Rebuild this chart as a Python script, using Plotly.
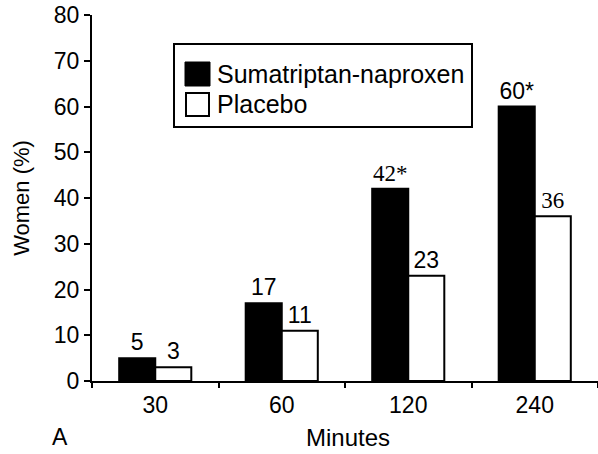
import plotly.graph_objects as go

categories = ["30", "60", "120", "240"]
suma_values = [5, 17, 42, 60]
placebo_values = [3, 11, 23, 36]
suma_labels = ["5", "17", "42*", "60*"]
placebo_labels = ["3", "11", "23", "36"]
suma_label_fonts = ["Liberation Sans", "Liberation Sans", "Liberation Serif", "Liberation Sans"]
placebo_label_fonts = ["Liberation Sans", "Liberation Sans", "Liberation Sans", "Liberation Serif"]
y_ticks = [0, 10, 20, 30, 40, 50, 60, 70, 80]
series_names = ["Sumatriptan-naproxen", "Placebo"]

SANS = "Liberation Sans, Arial, sans-serif"

fig = go.Figure()
fig.add_trace(go.Bar(
    x=categories, y=suma_values, name=series_names[0],
    marker=dict(color="black", line=dict(color="black", width=2)),
    text=suma_labels, textposition="outside",
    textfont=dict(family=suma_label_fonts, size=23, color="black"),
    cliponaxis=False, showlegend=False,
))
fig.add_trace(go.Bar(
    x=categories, y=placebo_values, name=series_names[1],
    marker=dict(color="white", line=dict(color="black", width=2)),
    text=placebo_labels, textposition="outside",
    textfont=dict(family=placebo_label_fonts, size=23, color="black"),
    cliponaxis=False, showlegend=False,
))

# plot area in pixels: x 92..598, y 15..381
L, R, T, B = 92, 598, 15, 381
def px(x):
    return (x - L) / (R - L)
def py(y):
    return (B - y) / (B - T)

shapes = [
    dict(type="rect", xref="paper", yref="paper", x0=px(174), x1=px(472), y0=py(127), y1=py(44),
         line=dict(color="black", width=2), fillcolor="white", layer="above"),
    dict(type="rect", xref="paper", yref="paper", x0=px(185), x1=px(210), y0=py(86), y1=py(62),
         line=dict(color="black", width=1), fillcolor="black", layer="above"),
    dict(type="rect", xref="paper", yref="paper", x0=px(186), x1=px(209), y0=py(116), y1=py(93),
         line=dict(color="black", width=2), fillcolor="white", layer="above"),
]
annotations = [
    dict(text=series_names[0], xref="paper", yref="paper", x=px(215), y=py(74), xanchor="left",
         yanchor="middle", showarrow=False, font=dict(family=SANS, size=25, color="black")),
    dict(text=series_names[1], xref="paper", yref="paper", x=px(215), y=py(104), xanchor="left",
         yanchor="middle", showarrow=False, font=dict(family=SANS, size=25, color="black")),
    dict(text="A", xref="paper", yref="paper", x=px(60), y=py(437), xanchor="center",
         yanchor="middle", showarrow=False, font=dict(family=SANS, size=23, color="black")),
    dict(text="Minutes", xref="paper", yref="paper", x=px(348), y=py(437), xanchor="center",
         yanchor="middle", showarrow=False, font=dict(family=SANS, size=24, color="black")),
]

fig.update_layout(
    width=598, height=454,
    margin=dict(l=L, r=598 - R, t=T, b=454 - B),
    paper_bgcolor="white", plot_bgcolor="white",
    barmode="group", bargap=0.43, bargroupgap=0,
    font=dict(family=SANS, size=23, color="black"),
    shapes=shapes, annotations=annotations,
    showlegend=False,
)
fig.update_xaxes(
    type="category", tickson="boundaries", ticks="outside", ticklen=5, tickwidth=2,
    tickcolor="black", showline=True, linecolor="black", linewidth=2,
    showgrid=False, tickfont=dict(size=23), ticklabelstandoff=2,
)
fig.update_yaxes(
    range=[0, 80], tickvals=y_ticks, ticks="outside", ticklen=6, tickwidth=2,
    tickcolor="black", showline=True, linecolor="black", linewidth=2,
    showgrid=False, zeroline=False, tickfont=dict(size=23), ticklabelstandoff=0,
    title=dict(text="Women (%)", font=dict(size=22), standoff=18),
)

fig.write_html(
    "out.html",
    config={"displayModeBar": False},
    post_script="document.body.style.margin='0';document.body.style.padding='0';",
)
